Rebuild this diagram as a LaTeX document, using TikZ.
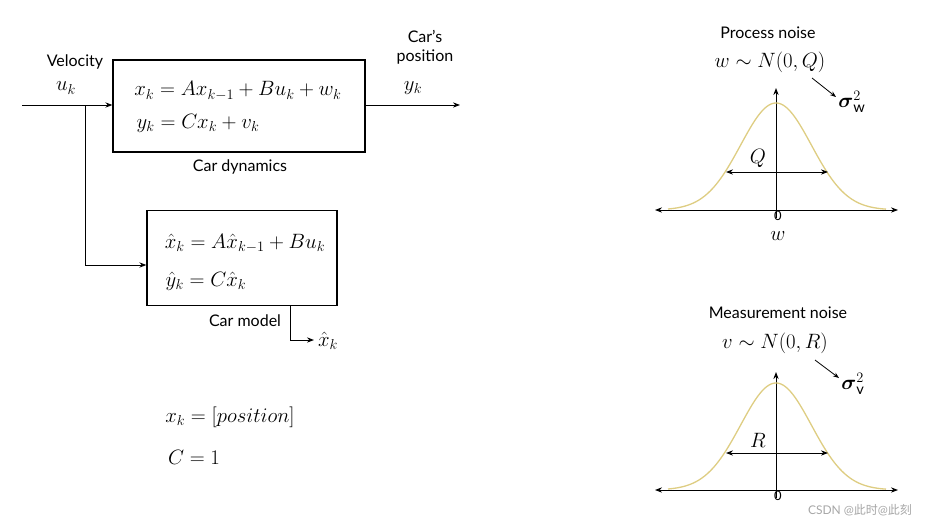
\documentclass[tikz,border=0pt]{standalone}
\usepackage{amsmath,amssymb}
\usepackage{fontspec}
\setmainfont{Lato}
\newfontfamily\cjk{Noto Sans CJK SC}
\usetikzlibrary{arrows.meta}
\definecolor{gauss}{RGB}{222,205,130}
\newcommand{\sk}[1]{_{\scriptstyle #1}}
\begin{document}
\begin{tikzpicture}[x=1pt,y=-1pt,
  lab/.style={font=\fontsize{16}{19}\selectfont},
  eq/.style={font=\fontsize{21}{24}\selectfont,inner sep=0.5pt},
  bx/.style={draw,line width=1.2pt},
  ar/.style={line width=1pt,-{Stealth[length=7pt]}},
  dar/.style={line width=0.9pt,{Stealth[length=7pt]}-{Stealth[length=7pt]}},
  gc/.style={gauss,line width=1.3pt}]
\useasboundingbox (0,0) rectangle (930,528);
% system block
\node[bx,minimum width=252,minimum height=92] (dyn) at (239,106) {};
\node[eq] at (238,91) {$x\sk{k}=Ax\sk{k-1}+Bu\sk{k}+w\sk{k}$};
\node[eq] at (198,123) {$y\sk{k}=Cx\sk{k}+v\sk{k}$};
\node[lab] at (240,167) {Car dynamics};
\coordinate (in) at (22,105);
\coordinate (br) at (85,105);
\draw[ar] (in) -- (dyn.west |- in);
\coordinate (out) at (460,105);
\draw[ar] (dyn.east |- out) -- (out);
\node[lab] at (75,62) {Velocity};
\node[eq] at (66,88) {$u\sk{k}$};
\node[lab,align=center] at (425,47) {Car's\\position};
\node[eq] at (413,88) {$y\sk{k}$};
% model block
\node[bx,minimum width=190,minimum height=95] (mod) at (242,258) {};
\node[eq] at (245,243) {$\hat x\sk{k}=A\hat x\sk{k-1}+Bu\sk{k}$};
\node[eq] at (206,281) {$\hat y\sk{k}=C\hat x\sk{k}$};
\node[lab] at (245,321) {Car model};
\draw[ar] (br) |- (mod.west |- 0,265);
\coordinate (mo) at (314,340);
\draw[ar] (290,305) |- (mo);
\node[eq] at (328,341) {$\hat x\sk{k}$};
\node[eq] at (230,417) {$x\sk{k}=[\mathnormal{position}]$};
\node[eq] at (194,457) {$C=1$};
% process noise
\node[lab] at (768,33) {Process noise};
\node[eq] at (770,62) {$w\sim N(0,Q)$};
\draw[line width=0.8pt,-{Stealth[length=6pt]}] (812,78) -- (836,97);
\node[eq] at (852,102) {$\boldsymbol\sigma^2_{\mathrm{w}}$};
\draw[dar] (655,210) -- (898,210);
\draw[ar] (776,218) -- (776,88);
\draw[gc,domain=-108:110,samples=120] plot ({776+\x},{210-107*exp(-(\x*\x)/(2*35.4*35.4))});
\draw[dar] (726,172) -- (828,172);
\node[eq] at (758,158) {$Q$};
\node[font=\fontsize{13}{14}\selectfont,anchor=north,inner sep=0] at (778,211) {0};
\node[eq] at (778,236) {$w$};
% measurement noise
\node[lab] at (778,313) {Measurement noise};
\node[eq] at (775,343) {$v\sim N(0,R)$};
\draw[line width=0.8pt,-{Stealth[length=6pt]}] (815,360) -- (839,378);
\node[eq] at (853,384) {$\boldsymbol\sigma^2_{\mathrm{v}}$};
\draw[dar] (655,490) -- (898,490);
\draw[ar] (776,498) -- (776,372);
\draw[gc,domain=-108:110,samples=120] plot ({776+\x},{490-107*exp(-(\x*\x)/(2*35.4*35.4))});
\draw[dar] (726,453) -- (828,453);
\node[eq] at (758,440) {$R$};
\node[font=\fontsize{13}{14}\selectfont,anchor=north,inner sep=0] at (778,491) {0};
\node[text=gray!70,font=\fontsize{12}{13}\selectfont] at (860,510) {CSDN @{\cjk 此时}@{\cjk 此刻}};
\end{tikzpicture}
\end{document}
